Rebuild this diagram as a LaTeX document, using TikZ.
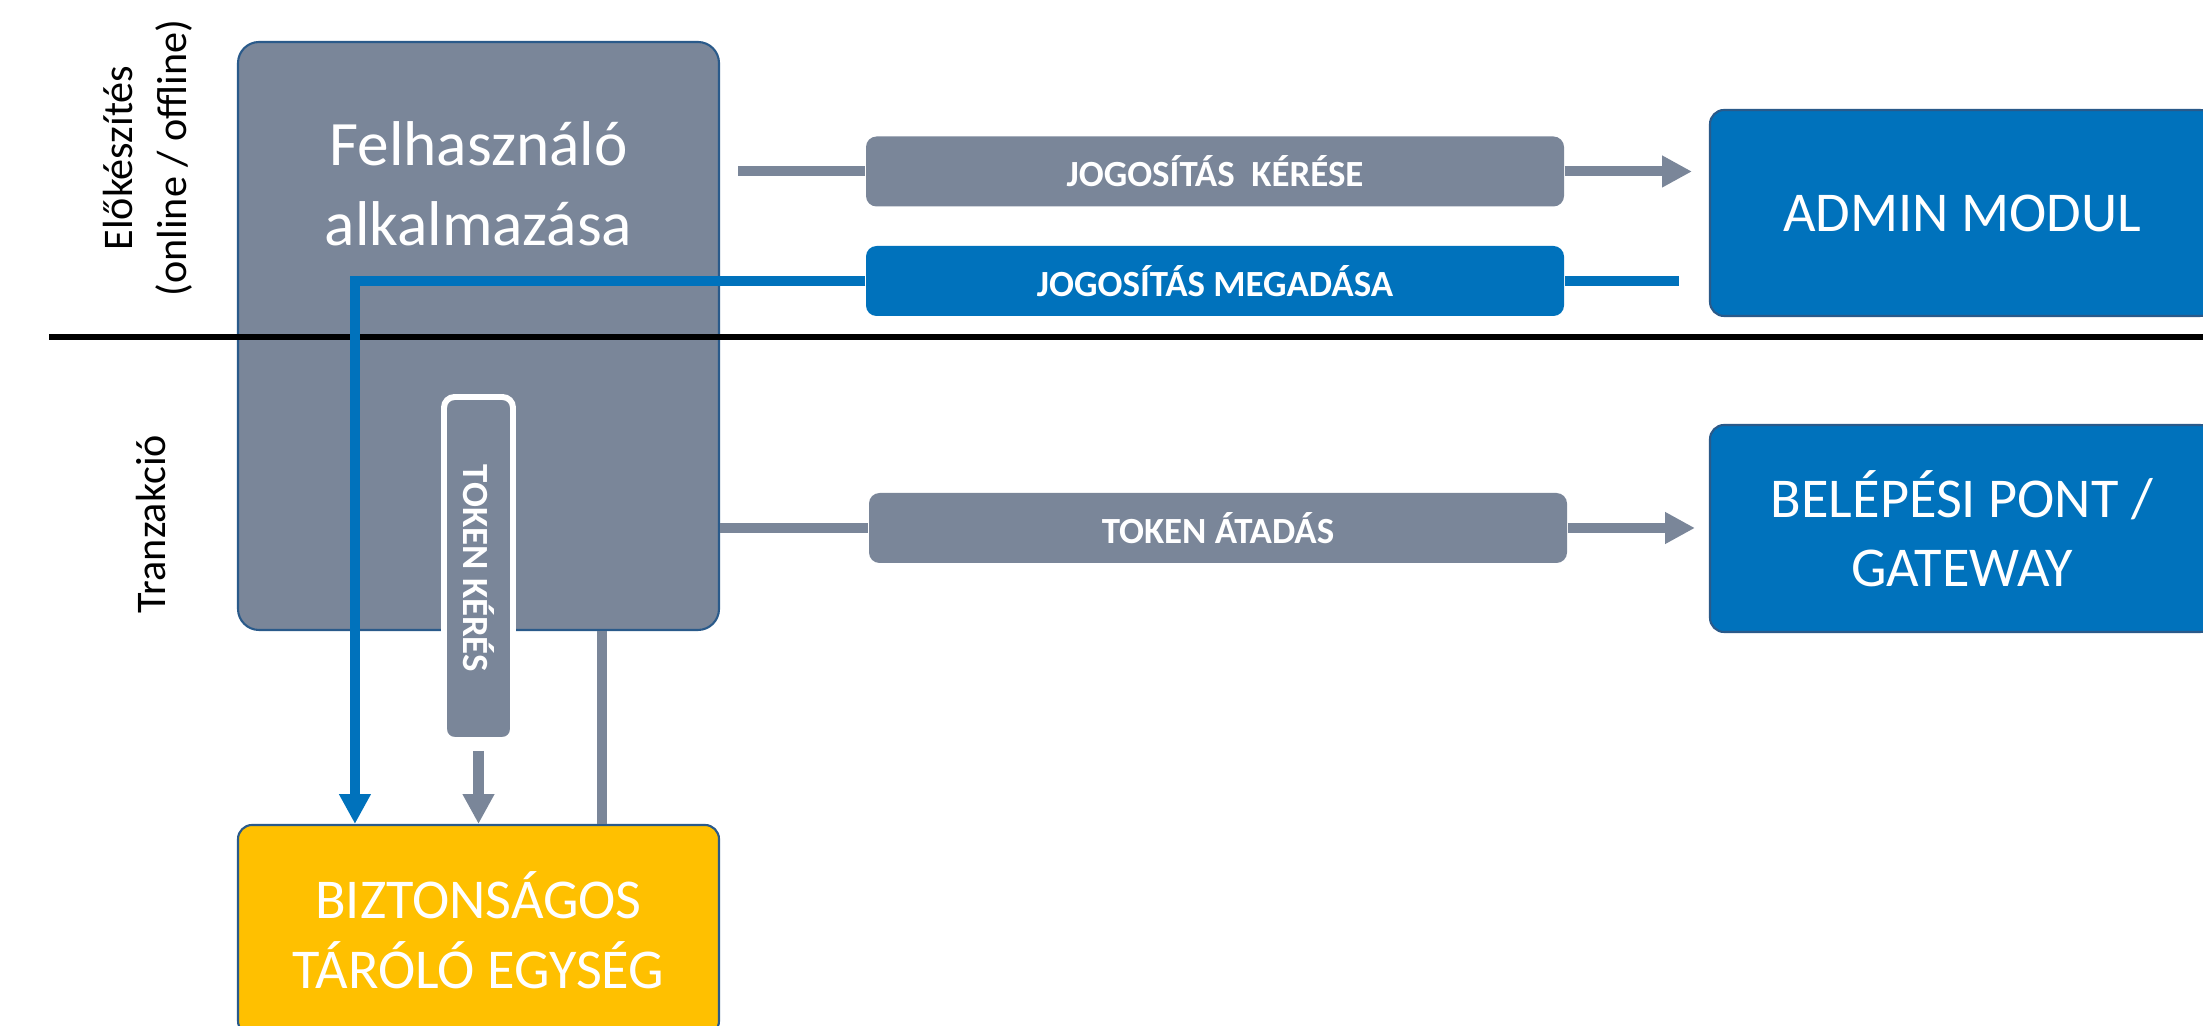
\documentclass[tikz,border=0pt]{standalone}
\usepackage{fontspec}
\setmainfont{Carlito}
\usepackage{tikz}
\usetikzlibrary{arrows.meta,positioning,calc}
\definecolor{slate}{HTML}{7A8699}
\definecolor{azure}{HTML}{0072BC}
\definecolor{amber}{HTML}{FFC000}
\definecolor{rim}{HTML}{2A5A8A}
\tikzset{
  block/.style={draw=rim, line width=0.6pt, rounded corners=4pt, text=white,
    align=center, inner sep=0pt},
  appbox/.style={block, fill=slate, rounded corners=6pt},
  modul/.style={block, fill=azure, font=\fontsize{16}{19.5}\selectfont},
  safe/.style={block, fill=amber, font=\fontsize{16}{20}\selectfont},
  tag/.style={fill=slate, rounded corners=3pt, text=white, inner sep=0pt,
    minimum width=6.98cm, minimum height=0.7cm,
    font=\fontsize{10.5}{12.5}\selectfont\bfseries},
  btag/.style={tag, fill=azure},
  lbl/.style={font=\fontsize{12}{15.5}\selectfont, align=center, inner sep=0pt},
  flow/.style={-{Triangle[length=8.5pt,width=8.5pt]}, line width=2.85pt, slate},
  gline/.style={line width=2.85pt, slate},
  bflow/.style={-{Triangle[length=8.5pt,width=8.5pt]}, line width=2.85pt, azure},
  bline/.style={line width=2.85pt, azure}
}

\begin{document}
\begin{tikzpicture}
  \useasboundingbox (0,0) rectangle (22.03,-10.26);

  % phases
  \node[lbl, rotate=90] (prep) at (1.48,-1.58) {Előkészítés\\(online / offline)};
  \node[lbl, rotate=90] (trans) at (1.51,-5.24) {Tranzakció};

  % blocks
  \node[appbox, minimum width=4.81cm, minimum height=5.88cm] (app) at (4.785,-3.36) {};
  \node[font=\fontsize{18}{22.8}\selectfont, text=white, align=center, inner sep=0pt]
    (apptxt) at ($(app.north)+(0,-1.43)$) {Felhasználó\\alkalmazása};
  \node[safe, minimum width=4.81cm, minimum height=2.1cm] (store) at (4.785,-9.30)
    {BIZTONSÁGOS\\TÁRÓLÓ EGYSÉG};
  \node[modul, minimum width=5.04cm, minimum height=2.06cm] (admin) at (19.62,-2.13)
    {ADMIN MODUL};
  \node[modul, minimum width=5.04cm, minimum height=2.07cm] (gate) at (19.62,-5.285)
    {BELÉPÉSI PONT /\\GATEWAY};

  % separator
  \draw[line width=1.6pt] (0.49,-3.37) -- (22.1,-3.37);

  % labels on the flows
  \node[tag, draw=white, line width=1.7pt, rotate=-90, minimum width=3.43cm,
    minimum height=0.69cm] (tkr) at (4.785,-5.685) {TOKEN KÉRÉS};
  \node[tag] (req) at (12.15,-1.715) {JOGOSÍTÁS\ \ KÉRÉSE};
  \node[btag] (grant) at (12.15,-2.81) {JOGOSÍTÁS MEGADÁSA};
  \node[tag] (pass) at (12.18,-5.28) {TOKEN ÁTADÁS};

  % request / grant
  \coordinate (reqin) at ($(app.east |- req)+(0.18,0)$);
  \coordinate (reqout) at ($(admin.west |- req)+(-0.17,0)$);
  \draw[gline] (reqin) -- (req.west);
  \draw[flow] (req.east) -- (reqout);
  \coordinate (grantin) at ($(admin.west |- grant)+(-0.3,0)$);
  \coordinate (drop) at ($(store.north west)+(1.18,0)$);
  \draw[bline] (grantin) -- (grant.east);
  \draw[bflow] (grant.west) -| (drop);

  % token
  \draw[flow, shorten <=0.08cm] (tkr.east) -- (store.north);
  \coordinate (rise) at ($(store.north east)+(-1.18,0)$);
  \draw[gline] (rise) -- (rise |- app.south);
  \draw[gline] (app.east |- pass) -- (pass.west);
  \coordinate (passout) at ($(gate.west |- pass)+(-0.14,0)$);
  \draw[flow] (pass.east) -- (passout);
\end{tikzpicture}
\end{document}
